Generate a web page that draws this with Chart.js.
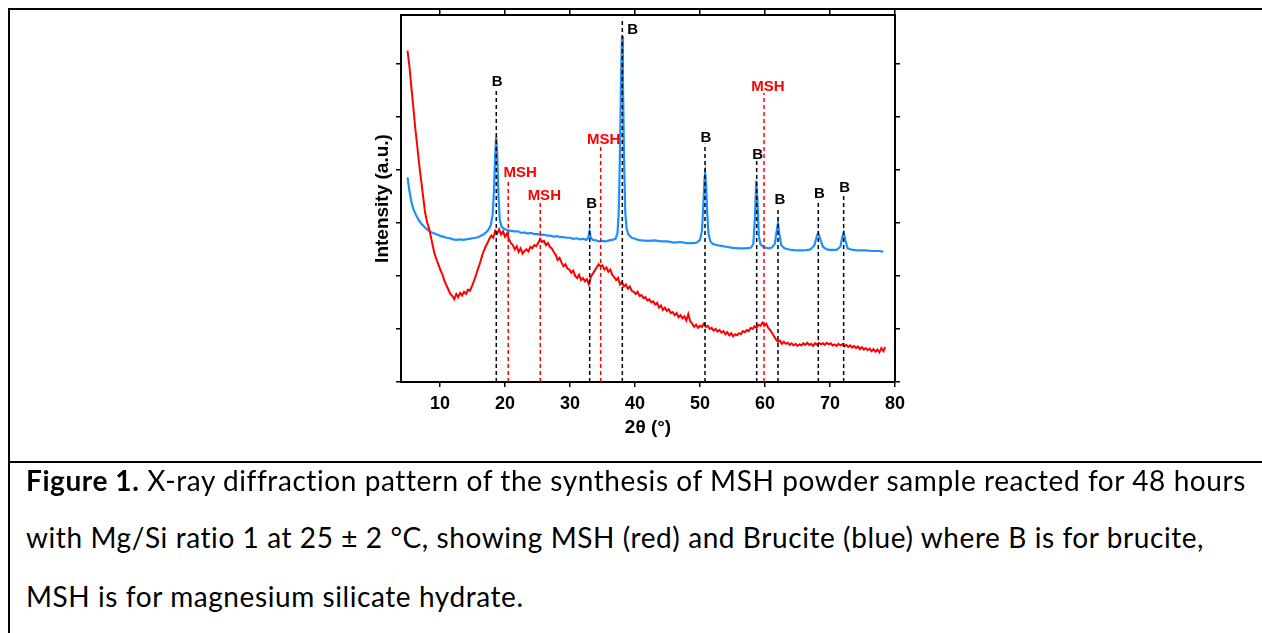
<!DOCTYPE html>
<html lang="en">
<head>
<meta charset="UTF-8">
<title>XRD pattern of MSH</title>
<script src="https://cdn.jsdelivr.net/npm/chart.js"></script>
<style>
  body { margin: 0; background: #fff; }
  #wrap { position: relative; width: 1262px; height: 633px; overflow: hidden; }
  #xrd { position: absolute; left: 0; top: 0; }
  .rule { position: absolute; background: #000; }
  .cap { position: absolute; left: 26px; font-family: Lato, "Open Sans", sans-serif; font-size: 28px; line-height: 28px; letter-spacing: 0.58px; color: #000; white-space: nowrap; }
</style>
</head>
<body>
<div id="wrap">
  <canvas id="xrd" width="1262" height="460"></canvas>
  <div class="rule" style="left:8px;top:8px;width:1254px;height:2px"></div>
  <div class="rule" style="left:8px;top:8px;width:2px;height:625px"></div>
  <div class="rule" style="left:8px;top:461px;width:1254px;height:2px"></div>
  <div class="cap" style="top:466px"><b>Figure 1.</b> X-ray diffraction pattern of the synthesis of MSH powder sample reacted for 48 hours</div>
  <div class="cap" style="top:523px">with Mg/Si ratio 1 at 25 ± 2 °C, showing MSH (red) and Brucite (blue) where B is for brucite,</div>
  <div class="cap" style="top:582px">MSH is for magnesium silicate hydrate.</div>
</div>

<script>
// 2theta (deg), intensity (a.u.)
const mshScan = [
  [5.0,6.25],[5.3,5.95],[5.6,5.55],[5.9,5.18],[6.2,4.78],[6.5,4.45],[6.8,4.10],[7.1,3.80],[7.4,3.50],[7.7,3.20],
  [8.0,3.02],[8.3,2.90],[8.6,2.74],[8.9,2.56],[9.2,2.40],[9.5,2.30],[9.8,2.20],[10.1,2.10],[10.4,2.02],[10.7,1.90],
  [11.0,1.82],[11.3,1.74],[11.6,1.66],[11.9,1.62],[12.2,1.56],[12.5,1.66],[12.8,1.60],[13.1,1.68],[13.4,1.63],[13.7,1.70],
  [14.0,1.66],[14.3,1.74],[14.6,1.72],[14.9,1.80],[15.2,1.90],[15.5,2.00],[15.8,2.12],[16.1,2.22],[16.4,2.35],[16.7,2.46],
  [17.0,2.55],[17.3,2.62],[17.6,2.70],[17.9,2.76],[18.2,2.72],[18.5,2.85],[18.8,2.80],[19.1,2.88],[19.4,2.78],[19.7,2.84],
  [20.0,2.74],[20.3,2.80],[20.6,2.70],[20.9,2.62],[21.2,2.58],[21.5,2.50],[21.8,2.56],[22.1,2.45],[22.4,2.52],[22.7,2.42],
  [23.0,2.47],[23.3,2.50],[23.6,2.46],[23.9,2.55],[24.2,2.52],[24.5,2.58],[24.8,2.56],[25.1,2.62],[25.4,2.70],[25.7,2.64],
  [26.0,2.66],[26.3,2.58],[26.6,2.62],[26.9,2.55],[27.2,2.52],[27.5,2.45],[27.8,2.40],[28.1,2.30],[28.4,2.34],[28.7,2.25],
  [29.0,2.18],[29.3,2.22],[29.6,2.14],[29.9,2.12],[30.2,2.06],[30.5,2.10],[30.8,2.00],[31.1,1.96],[31.4,2.02],[31.7,1.92],
  [32.0,1.96],[32.3,1.90],[32.6,1.94],[32.9,1.84],[33.2,1.98],[33.5,2.04],[33.8,2.10],[34.1,2.16],[34.4,2.22],[34.7,2.18],
  [35.0,2.20],[35.3,2.12],[35.6,2.16],[35.9,2.08],[36.2,2.12],[36.5,2.02],[36.8,1.98],[37.1,1.92],[37.4,1.96],[37.7,1.84],
  [38.0,1.88],[38.3,1.80],[38.6,1.84],[38.9,1.76],[39.2,1.80],[39.5,1.72],[39.8,1.70],[40.1,1.66],[40.4,1.70],[40.7,1.62],
  [41.0,1.64],[41.3,1.58],[41.6,1.60],[41.9,1.54],[42.2,1.56],[42.5,1.50],[42.8,1.52],[43.1,1.46],[43.4,1.49],[43.7,1.40],
  [44.0,1.44],[44.3,1.36],[44.6,1.40],[44.9,1.34],[45.2,1.37],[45.5,1.30],[45.8,1.32],[46.1,1.26],[46.4,1.30],[46.7,1.22],
  [47.0,1.26],[47.3,1.20],[47.6,1.24],[47.9,1.16],[48.2,1.28],[48.5,1.14],[48.8,1.10],[49.1,1.04],[49.4,1.08],[49.7,1.02],
  [50.0,1.06],[50.3,1.04],[50.6,1.10],[50.9,1.04],[51.2,1.06],[51.5,1.00],[51.8,1.02],[52.1,0.97],[52.4,1.00],[52.7,0.95],
  [53.0,0.98],[53.3,0.93],[53.6,0.96],[53.9,0.90],[54.2,0.94],[54.5,0.88],[54.8,0.92],[55.1,0.86],[55.4,0.90],[55.7,0.88],
  [56.0,0.92],[56.3,0.90],[56.6,0.96],[56.9,0.94],[57.2,0.98],[57.5,0.96],[57.8,1.02],[58.1,1.00],[58.4,1.05],[58.7,1.02],
  [59.0,1.08],[59.3,1.06],[59.6,1.12],[59.9,1.06],[60.2,1.10],[60.5,1.02],[60.8,0.98],[61.1,0.92],[61.4,0.86],[61.7,0.80],
  [62.0,0.76],[62.3,0.78],[62.6,0.72],[62.9,0.76],[63.2,0.72],[63.5,0.74],[63.8,0.70],[64.1,0.73],[64.4,0.69],[64.7,0.72],
  [65.0,0.68],[65.3,0.71],[65.6,0.69],[65.9,0.73],[66.2,0.70],[66.5,0.74],[66.8,0.70],[67.1,0.72],[67.4,0.68],[67.7,0.73],
  [68.0,0.70],[68.3,0.74],[68.6,0.71],[68.9,0.73],[69.2,0.70],[69.5,0.74],[69.8,0.71],[70.1,0.73],[70.4,0.69],[70.7,0.71],
  [71.0,0.68],[71.3,0.72],[71.6,0.69],[71.9,0.71],[72.2,0.67],[72.5,0.70],[72.8,0.66],[73.1,0.69],[73.4,0.65],[73.7,0.68],
  [74.0,0.64],[74.3,0.67],[74.6,0.62],[74.9,0.66],[75.2,0.61],[75.5,0.64],[75.8,0.60],[76.1,0.63],[76.4,0.58],[76.7,0.62],
  [77.0,0.57],[77.3,0.61],[77.6,0.56],[77.9,0.64],[78.2,0.58],[78.5,0.66]
];

const bruciteScan = [
  [5.0,3.86],[5.3,3.60],[5.6,3.40],[5.9,3.26],[6.2,3.18],[6.5,3.10],[6.8,3.04],[7.1,2.99],[7.4,2.95],[7.7,2.91],
  [8.0,2.88],[8.3,2.85],[8.6,2.83],[8.9,2.81],[9.2,2.80],[9.5,2.78],[9.8,2.77],[10.1,2.75],[10.5,2.74],[11.0,2.72],
  [11.5,2.71],[12.0,2.69],[12.5,2.68],[13.0,2.69],[13.5,2.68],[14.0,2.69],[14.5,2.70],[15.0,2.71],[15.5,2.72],[16.0,2.74],
  [16.5,2.77],[17.0,2.81],[17.4,2.86],[17.8,2.95],[18.1,3.15],[18.3,3.60],[18.5,4.30],[18.65,4.63],[18.8,4.30],[19.0,3.50],
  [19.2,3.05],[19.5,2.92],[20.0,2.88],[20.5,2.86],[21.0,2.85],[21.5,2.84],[22.0,2.84],[22.5,2.81],[23.0,2.82],[23.5,2.80],
  [24.0,2.81],[24.5,2.79],[25.0,2.79],[25.5,2.77],[26.0,2.78],[26.5,2.76],[27.0,2.76],[27.5,2.74],[28.0,2.75],[28.5,2.73],
  [29.0,2.73],[29.5,2.72],[30.0,2.72],[30.5,2.70],[31.0,2.71],[31.5,2.69],[32.0,2.70],[32.5,2.68],[32.8,2.72],[33.0,2.84],
  [33.2,2.72],[33.5,2.68],[34.0,2.67],[34.5,2.65],[35.0,2.66],[35.5,2.65],[36.0,2.67],[36.5,2.68],[37.0,2.70],[37.3,2.80],
  [37.5,3.20],[37.7,4.40],[37.85,5.70],[38.0,6.52],[38.15,5.60],[38.3,4.30],[38.5,3.20],[38.7,2.90],[39.0,2.78],[39.5,2.72],
  [40.0,2.70],[40.5,2.68],[41.0,2.67],[42.0,2.66],[43.0,2.67],[44.0,2.65],[45.0,2.65],[46.0,2.63],[47.0,2.64],[48.0,2.62],
  [49.0,2.62],[49.5,2.63],[50.0,2.68],[50.3,2.85],[50.5,3.30],[50.7,3.85],[50.8,3.94],[50.95,3.70],[51.1,3.20],[51.3,2.80],
  [51.6,2.65],[52.0,2.60],[53.0,2.57],[54.0,2.55],[55.0,2.53],[56.0,2.52],[57.0,2.52],[57.8,2.53],[58.2,2.60],[58.45,3.10],
  [58.65,3.80],[58.85,3.40],[59.05,2.75],[59.3,2.60],[59.8,2.54],[60.5,2.52],[61.0,2.53],[61.5,2.60],[61.8,2.85],[62.0,2.99],
  [62.2,2.80],[62.5,2.58],[63.0,2.52],[64.0,2.49],[65.0,2.48],[66.0,2.48],[67.0,2.50],[67.6,2.58],[68.0,2.76],[68.2,2.81],
  [68.5,2.70],[68.9,2.55],[69.5,2.50],[70.0,2.49],[71.0,2.49],[71.6,2.55],[71.9,2.74],[72.1,2.81],[72.35,2.68],[72.7,2.52],
  [73.5,2.49],[74.5,2.48],[75.5,2.48],[76.5,2.47],[77.5,2.47],[78.2,2.46]
];

// phase markers: position, name, height of the dashed line
const markTheta = [18.66, 20.5, 25.43, 33.03, 34.72, 38.05, 50.77, 58.72, 59.85, 62.0, 68.2, 72.1];
const markName  = ['B', 'MSH', 'MSH', 'B', 'MSH', 'B', 'B', 'B', 'MSH', 'B', 'B', 'B'];
const markTop   = [5.53, 3.83, 3.40, 3.23, 4.43, 6.81, 4.49, 4.17, 5.45, 3.28, 3.42, 3.53];

const xTicks = [10, 20, 30, 40, 50, 60, 70, 80];
const yTicks = [0, 1, 2, 3, 4, 5, 6];

// label placement relative to top of dashed line (px)
const labelShift = [[1,-3],[12,-2],[4,-2],[2,-3],[3,-3],[5,13],[1,-2],[1,-2],[4,-2],[2,-4],[1,-3],[1,-3]];

const FONT = '"Liberation Sans", Arial, sans-serif';

const markerSets = markTheta.map((t, i) => ({
  data: [{x: t, y: 0}, {x: t, y: markTop[i]}],
  borderColor: markName[i] === 'B' ? '#000' : '#f00',
  borderWidth: 1.5,
  borderDash: [4, 3],
  pointRadius: 0,
  showLine: true
}));

const phaseLabels = {
  id: 'phaseLabels',
  afterDatasetsDraw(chart) {
    const {ctx, chartArea, scales} = chart;
    ctx.save();
    ctx.font = 'bold 15px ' + FONT;
    ctx.textBaseline = 'alphabetic';
    markTheta.forEach((t, i) => {
      const px = scales.x.getPixelForValue(t) + labelShift[i][0];
      const py = scales.y.getPixelForValue(markTop[i]) + labelShift[i][1];
      ctx.fillStyle = markName[i] === 'B' ? '#000' : '#f00';
      ctx.textAlign = i === 5 ? 'left' : 'center';
      ctx.fillText(markName[i], px, py);
    });
    ctx.fillStyle = '#000';
    ctx.font = 'bold 19px ' + FONT;
    ctx.textAlign = 'center';
    ctx.textBaseline = 'middle';
    ctx.fillText('2θ (°)', (chartArea.left + chartArea.right) / 2, chartArea.bottom + 46);
    ctx.translate(chartArea.left - 18, (chartArea.top + chartArea.bottom) / 2);
    ctx.rotate(-Math.PI / 2);
    ctx.fillText('Intensity (a.u.)', 0, 0);
    ctx.restore();
  }
};

function axis(pos, min, max, ticks, size, showLabels) {
  return {
    type: 'linear',
    position: pos,
    min: min,
    max: max,
    afterBuildTicks: s => { s.ticks = ticks.map(v => ({value: v})); },
    afterFit: s => {
      if (pos === 'left' || pos === 'right') s.width = size; else s.height = size;
    },
    border: {display: true, color: '#000', width: 2},
    grid: {display: true, drawOnChartArea: false, drawTicks: true, tickLength: 5, color: '#000', lineWidth: 1.5},
    ticks: {
      display: showLabels,
      color: '#000',
      padding: 6,
      maxRotation: 0,
      font: {family: FONT, size: 18, weight: 'bold'}
    }
  };
}

new Chart(document.getElementById('xrd'), {
  type: 'scatter',
  data: {
    datasets: [
      ...markerSets,
      {data: mshScan.map(p => ({x: p[0], y: p[1]})), borderColor: '#ff0000', borderWidth: 2, pointRadius: 0, showLine: true},
      {data: bruciteScan.map(p => ({x: p[0], y: p[1]})), borderColor: '#1e8fff', borderWidth: 2.2, pointRadius: 0, showLine: true}
    ]
  },
  options: {
    responsive: false,
    animation: false,
    devicePixelRatio: 1,
    layout: {padding: 0},
    plugins: {legend: {display: false}, tooltip: {enabled: false}},
    scales: {
      x: axis('bottom', 4, 80, xTicks, 78, true),
      x2: axis('top', 4, 80, xTicks, 15, false),
      y: axis('left', 0, 6.92, yTicks, 401, false),
      y2: axis('right', 0, 6.92, yTicks, 367, false)
    }
  },
  plugins: [phaseLabels]
});
</script>
</body>
</html>
